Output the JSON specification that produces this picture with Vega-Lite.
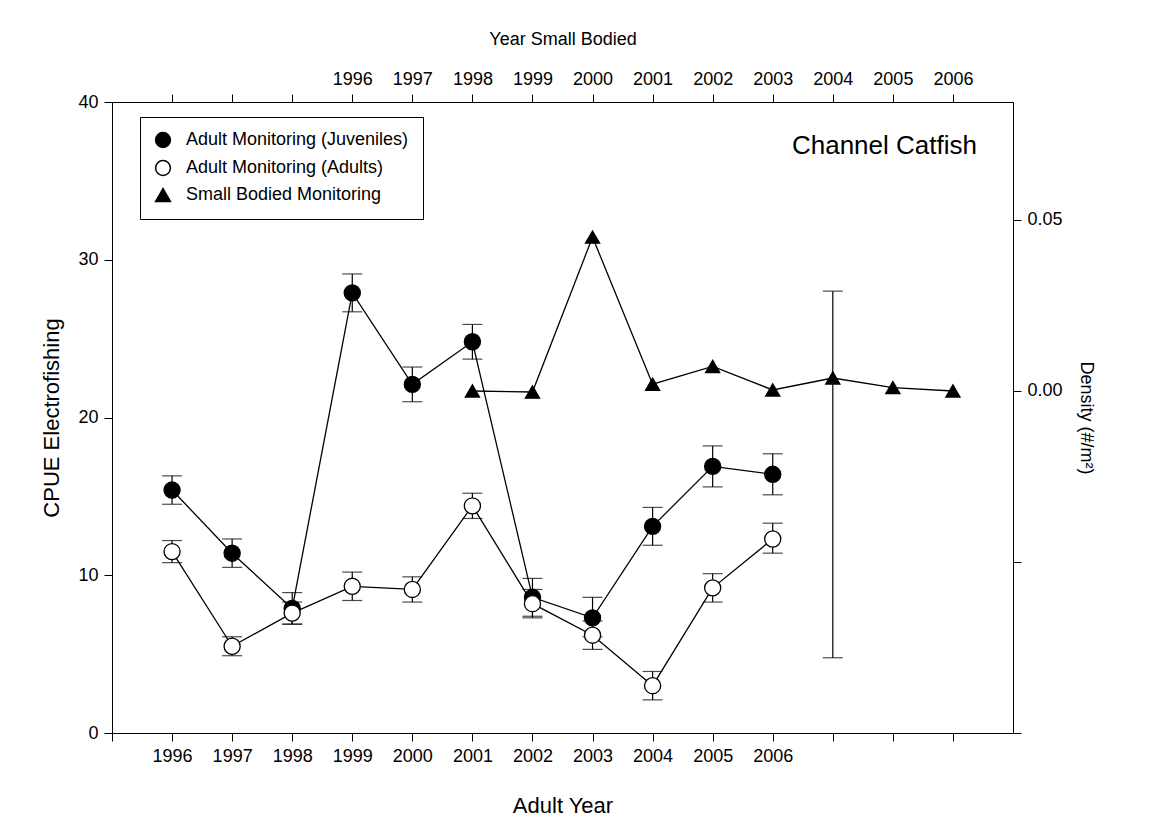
{
  "$schema": "https://vega.github.io/schema/vega-lite/v6.json",
  "width": 901,
  "height": 631,
  "autosize": "none",
  "padding": {"left": 112, "top": 102, "right": 136, "bottom": 103},
  "background": "white",
  "config": {
    "font": "Liberation Sans",
    "view": {"stroke": "black", "strokeWidth": 1},
    "axis": {"domainColor": "black", "tickColor": "black", "labelColor": "black", "titleColor": "black", "labelFontSize": 18, "titleFontSize": 22, "titleFontWeight": "normal", "grid": false, "tickSize": 8, "labelPadding": 6}
  },
  "datasets": {
    "series": [
      {"series": "Adult Monitoring (Juveniles)", "year": 1996, "value": 15.4, "lo": 14.5, "hi": 16.3},
      {"series": "Adult Monitoring (Juveniles)", "year": 1997, "value": 11.4, "lo": 10.5, "hi": 12.3},
      {"series": "Adult Monitoring (Juveniles)", "year": 1998, "value": 7.9, "lo": 6.9, "hi": 8.9},
      {"series": "Adult Monitoring (Juveniles)", "year": 1999, "value": 27.9, "lo": 26.7, "hi": 29.1},
      {"series": "Adult Monitoring (Juveniles)", "year": 2000, "value": 22.1, "lo": 21.0, "hi": 23.2},
      {"series": "Adult Monitoring (Juveniles)", "year": 2001, "value": 24.8, "lo": 23.7, "hi": 25.9},
      {"series": "Adult Monitoring (Juveniles)", "year": 2002, "value": 8.6, "lo": 7.4, "hi": 9.8},
      {"series": "Adult Monitoring (Juveniles)", "year": 2003, "value": 7.3, "lo": 6.1, "hi": 8.6},
      {"series": "Adult Monitoring (Juveniles)", "year": 2004, "value": 13.1, "lo": 11.9, "hi": 14.3},
      {"series": "Adult Monitoring (Juveniles)", "year": 2005, "value": 16.9, "lo": 15.6, "hi": 18.2},
      {"series": "Adult Monitoring (Juveniles)", "year": 2006, "value": 16.4, "lo": 15.1, "hi": 17.7},
      {"series": "Adult Monitoring (Adults)", "year": 1996, "value": 11.5, "lo": 10.8, "hi": 12.2},
      {"series": "Adult Monitoring (Adults)", "year": 1997, "value": 5.5, "lo": 4.9, "hi": 6.1},
      {"series": "Adult Monitoring (Adults)", "year": 1998, "value": 7.6, "lo": 6.9, "hi": 8.3},
      {"series": "Adult Monitoring (Adults)", "year": 1999, "value": 9.3, "lo": 8.4, "hi": 10.2},
      {"series": "Adult Monitoring (Adults)", "year": 2000, "value": 9.1, "lo": 8.3, "hi": 9.9},
      {"series": "Adult Monitoring (Adults)", "year": 2001, "value": 14.4, "lo": 13.6, "hi": 15.2},
      {"series": "Adult Monitoring (Adults)", "year": 2002, "value": 8.2, "lo": 7.3, "hi": 9.1},
      {"series": "Adult Monitoring (Adults)", "year": 2003, "value": 6.2, "lo": 5.3, "hi": 7.1},
      {"series": "Adult Monitoring (Adults)", "year": 2004, "value": 3.0, "lo": 2.1, "hi": 3.9},
      {"series": "Adult Monitoring (Adults)", "year": 2005, "value": 9.2, "lo": 8.3, "hi": 10.1},
      {"series": "Adult Monitoring (Adults)", "year": 2006, "value": 12.3, "lo": 11.4, "hi": 13.3},
      {"series": "Small Bodied Monitoring", "year": 1998, "value": 0.0, "lo": null, "hi": null},
      {"series": "Small Bodied Monitoring", "year": 1999, "value": -0.0003, "lo": null, "hi": null},
      {"series": "Small Bodied Monitoring", "year": 2000, "value": 0.045, "lo": null, "hi": null},
      {"series": "Small Bodied Monitoring", "year": 2001, "value": 0.002, "lo": null, "hi": null},
      {"series": "Small Bodied Monitoring", "year": 2002, "value": 0.0072, "lo": null, "hi": null},
      {"series": "Small Bodied Monitoring", "year": 2003, "value": 0.0003, "lo": null, "hi": null},
      {"series": "Small Bodied Monitoring", "year": 2004, "value": 0.0038, "lo": -0.078, "hi": 0.0292},
      {"series": "Small Bodied Monitoring", "year": 2005, "value": 0.001, "lo": null, "hi": null},
      {"series": "Small Bodied Monitoring", "year": 2006, "value": 0.0, "lo": null, "hi": null}
    ],
    "note": [{"label": "Channel Catfish", "year": 2006.4, "value": 0.0715}]
  },
  "data": {"name": "series"},
  "layer": [
    {
      "transform": [{"filter": "datum.series !== 'Small Bodied Monitoring'"}],
      "encoding": {
        "x": {"field": "year", "type": "quantitative", "scale": {"domain": [1995, 2010]},
          "axis": {"orient": "bottom", "title": "Adult Year", "titlePadding": 30, "values": [1995, 1996, 1997, 1998, 1999, 2000, 2001, 2002, 2003, 2004, 2005, 2006, 2007, 2008, 2009], "labelExpr": "datum.value >= 1996 && datum.value <= 2006 ? datum.value : ''", "format": "d"}},
        "y": {"field": "value", "type": "quantitative", "scale": {"domain": [0, 40]},
          "axis": {"orient": "left", "title": "CPUE Electrofishing", "values": [0, 10, 20, 30, 40], "titlePadding": 14}}
      },
      "layer": [
        {"mark": {"type": "rule", "color": "black", "strokeWidth": 1.2}, "encoding": {"y": {"field": "lo", "type": "quantitative"}, "y2": {"field": "hi"}}},
        {"mark": {"type": "tick", "orient": "horizontal", "color": "black", "size": 20, "thickness": 1.2}, "encoding": {"y": {"field": "lo", "type": "quantitative"}}},
        {"mark": {"type": "tick", "orient": "horizontal", "color": "black", "size": 20, "thickness": 1.2}, "encoding": {"y": {"field": "hi", "type": "quantitative"}}},
        {"mark": {"type": "line", "color": "black", "strokeWidth": 1.3}, "encoding": {"detail": {"field": "series"}}},
        {"mark": {"type": "point", "size": 260, "stroke": "black", "strokeWidth": 1.3, "opacity": 1},
          "encoding": {
            "shape": {"field": "series", "type": "nominal", "scale": {"domain": ["Adult Monitoring (Juveniles)", "Adult Monitoring (Adults)", "Small Bodied Monitoring"], "range": ["circle", "circle", "triangle-up"]},
              "legend": {"title": null, "orient": "none", "legendX": 28, "legendY": 15, "strokeColor": "black", "padding": 14, "labelFontSize": 18, "labelLimit": 0, "symbolSize": 220, "rowPadding": 6, "labelOffset": 14,
                "encode": {"symbols": {"update": {"stroke": {"value": "black"}, "strokeWidth": {"value": 1.3}}}}}},
            "fill": {"field": "series", "type": "nominal", "scale": {"domain": ["Adult Monitoring (Juveniles)", "Adult Monitoring (Adults)", "Small Bodied Monitoring"], "range": ["black", "white", "black"]},
              "legend": {"title": null, "orient": "none", "legendX": 28, "legendY": 15, "strokeColor": "black", "padding": 14, "labelFontSize": 18, "labelLimit": 0, "symbolSize": 220, "rowPadding": 6, "labelOffset": 14,
                "encode": {"symbols": {"update": {"stroke": {"value": "black"}, "strokeWidth": {"value": 1.3}}}}}}
          }}
      ]
    },
    {
      "transform": [{"filter": "datum.series === 'Small Bodied Monitoring'"}],
      "encoding": {
        "x": {"field": "year", "type": "quantitative", "scale": {"domain": [1992, 2007]},
          "axis": {"orient": "top", "title": "Year Small Bodied", "titlePadding": 22, "titleFontSize": 18, "values": [1993, 1994, 1995, 1996, 1997, 1998, 1999, 2000, 2001, 2002, 2003, 2004, 2005, 2006], "labelExpr": "datum.value >= 1996 ? datum.value : ''", "format": "d"}},
        "y": {"field": "value", "type": "quantitative", "scale": {"domain": [-0.1, 0.0845]},
          "axis": {"orient": "right", "title": "Density (#/m²)", "titleFontSize": 18, "values": [-0.1, -0.05, 0, 0.05], "format": ".2f", "labelExpr": "datum.value >= 0 ? datum.label : ''", "titlePadding": 14}}
      },
      "layer": [
        {"transform": [{"filter": "datum.lo != null"}], "mark": {"type": "rule", "color": "black", "strokeWidth": 1.2}, "encoding": {"y": {"field": "lo", "type": "quantitative"}, "y2": {"field": "hi"}}},
        {"transform": [{"filter": "datum.lo != null"}], "mark": {"type": "tick", "orient": "horizontal", "color": "black", "size": 20, "thickness": 1.2}, "encoding": {"y": {"field": "lo", "type": "quantitative"}}},
        {"transform": [{"filter": "datum.lo != null"}], "mark": {"type": "tick", "orient": "horizontal", "color": "black", "size": 20, "thickness": 1.2}, "encoding": {"y": {"field": "hi", "type": "quantitative"}}},
        {"mark": {"type": "line", "color": "black", "strokeWidth": 1.3}, "encoding": {}},
        {"mark": {"type": "point", "size": 200, "stroke": "black", "strokeWidth": 1.3, "opacity": 1},
          "encoding": {
            "shape": {"field": "series", "type": "nominal"},
            "fill": {"field": "series", "type": "nominal"}
          }}
      ]
    },
    {
      "data": {"name": "note"},
      "mark": {"type": "text", "fontSize": 26, "align": "right", "baseline": "middle", "color": "black"},
      "encoding": {
        "text": {"field": "label"},
        "x": {"field": "year", "type": "quantitative", "scale": {"domain": [1992, 2007]}, "axis": null},
        "y": {"field": "value", "type": "quantitative", "scale": {"domain": [-0.1, 0.0845]}, "axis": null}
      }
    }
  ],
  "resolve": {"scale": {"x": "independent", "y": "independent"}, "axis": {"x": "independent", "y": "independent"}}
}
